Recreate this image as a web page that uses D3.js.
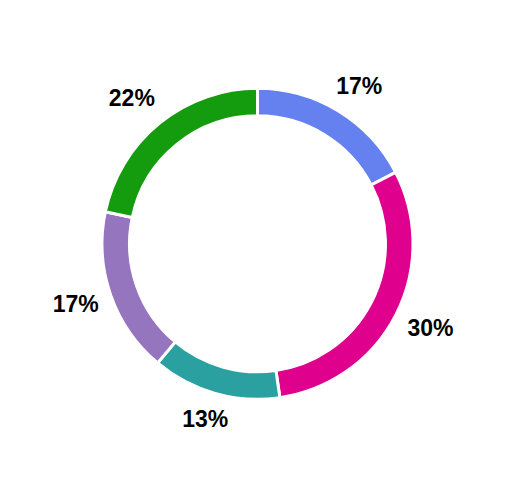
<!DOCTYPE html>
<html>
<head>
<meta charset="utf-8">
<script src="https://cdn.jsdelivr.net/npm/d3@7"></script>
<style>
html,body{margin:0;padding:0;background:#fff;}
svg{display:block;}
</style>
</head>
<body>
<svg id="chart" width="506" height="504"></svg>
<script>
const categories = ["A", "B", "C", "D", "E"];
const values = [17.4, 30.3, 13.4, 17.2, 21.7];
const colors = ["#6580ef", "#e0008e", "#2aa0a0", "#9575be", "#149c0e"];

const cx = 257.5, cy = 243.8;
const outerR = 155.5, innerR = 128;
const fontSize = 23, labelPad = 8, labelOffset = 4;

const svg = d3.select("#chart");
const g = svg.append("g").attr("transform", `translate(${cx},${cy})`);

const data = categories.map((c, i) => ({cat: c, value: values[i], color: colors[i]}));
const total = d3.sum(values);

const pie = d3.pie().value(d => d.value).sort(null);
const arc = d3.arc().innerRadius(innerR).outerRadius(outerR);
const arcs = pie(data);

g.selectAll("path.slice")
  .data(arcs)
  .enter().append("path")
  .attr("class", "slice")
  .attr("d", arc)
  .attr("fill", d => d.data.color)
  .attr("stroke", "#fff")
  .attr("stroke-width", 3);

const labels = g.selectAll("text.lbl")
  .data(arcs)
  .enter().append("text")
  .attr("class", "lbl")
  .attr("text-anchor", "middle")
  .attr("dy", "0.36em")
  .style("font-family", "'Liberation Sans', Arial, Helvetica, sans-serif")
  .style("font-weight", "bold")
  .style("font-size", fontSize + "px")
  .attr("fill", "#000")
  .text(d => Math.round(d.data.value / total * 100) + "%");

// position labels outside the ring: anchor at outer edge, box aligned outward
labels.each(function(d) {
  const a = (d.startAngle + d.endAngle) / 2;
  const vx = Math.sin(a), vy = -Math.cos(a);
  const tw = this.getComputedTextLength();
  const w = tw + 2 * labelPad, h = fontSize * 1.2 + 2 * labelPad;
  const vs = 1 / Math.max(Math.abs(vx), Math.abs(vy));
  const x = vx * (outerR + labelOffset) + vx * vs * w / 2;
  const y = vy * (outerR + labelOffset) + vy * vs * h / 2;
  d3.select(this).attr("x", x).attr("y", y);
});
</script>
</body>
</html>
